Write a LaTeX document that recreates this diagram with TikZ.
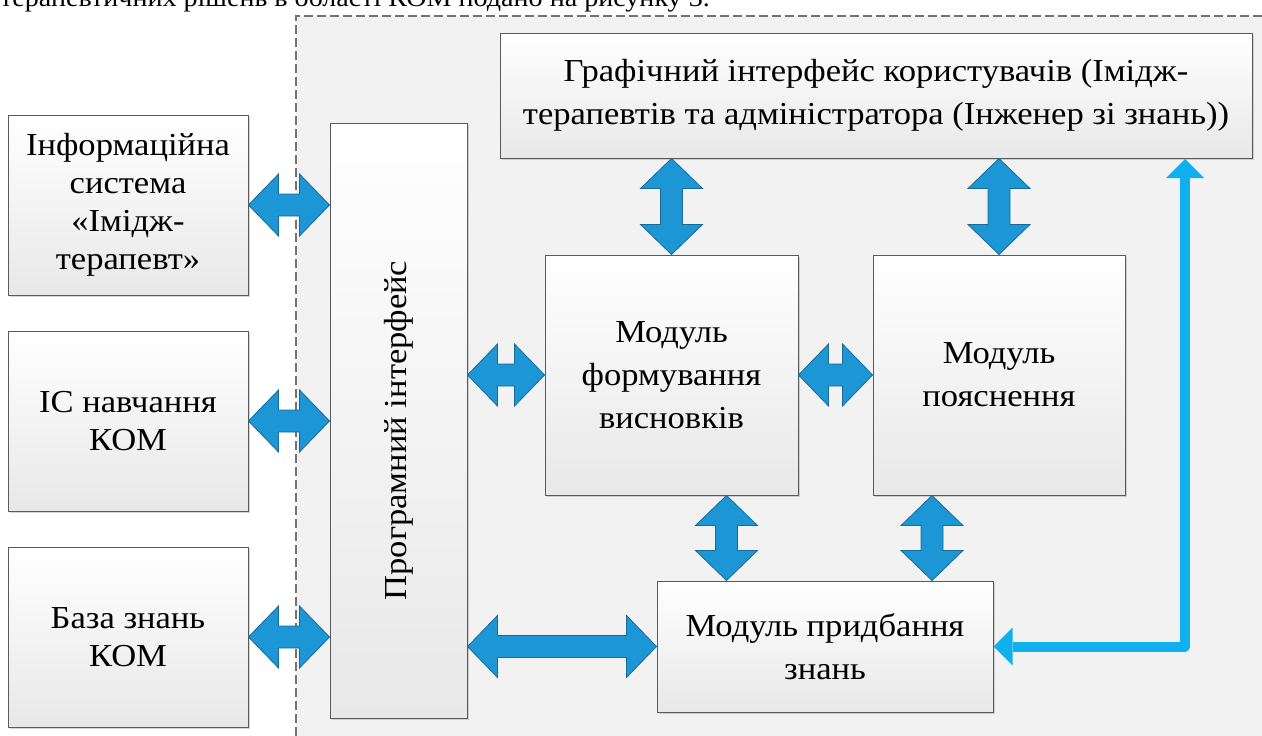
\documentclass[tikz,border=0pt]{standalone}
\usepackage{fontspec}
\setmainfont{Liberation Serif}[FakeStretch=1.08]
\usepackage{graphicx}
\usepackage{xcolor}
\usetikzlibrary{arrows.meta,calc,shadows}
\definecolor{frame}{HTML}{5A5A5A}
\definecolor{panel}{HTML}{F2F2F2}
\definecolor{boxlow}{HTML}{E8E8E8}
\definecolor{fatfill}{HTML}{1C96D4}
\definecolor{fatedge}{HTML}{1A6A98}
\definecolor{linkc}{HTML}{10AFEE}
\newcommand{\fs}{\fontsize{32}{38}\selectfont}
\newcommand{\fw}{\fontsize{32}{43}\selectfont}
\tikzset{
  blk/.style={draw=frame,line width=1pt,top color=white,bottom color=boxlow,
    align=center,inner sep=4pt,font=\fs,
    drop shadow={shadow xshift=2pt,shadow yshift=-2pt,fill=black!45,opacity=.35}},
  blkw/.style={blk,font=\fw},
  fat/.style={fill=fatfill,draw=fatedge,line width=0.8pt,line join=miter},
  link/.style={draw=linkc,line width=10pt,line join=round,
    {Triangle[length=19pt,width=38pt,line width=0pt]}-{Triangle[length=19pt,width=38pt,line width=0pt]}},
  region/.style={draw=frame!85,line width=1.2pt,dash pattern=on 9pt off 4pt},
}
% fat two-headed arrows between node anchors
\newcommand{\hfat}[2]{%
  \draw[fat] let \p1=#1, \p2=#2 in
    (\x1,\y1) -- (\x1+30pt,\y1+31pt) -- (\x1+30pt,\y1+11pt) -- (\x2-30pt,\y1+11pt)
    -- (\x2-30pt,\y1+31pt) -- (\x2,\y1) -- (\x2-30pt,\y1-31pt) -- (\x2-30pt,\y1-11pt)
    -- (\x1+30pt,\y1-11pt) -- (\x1+30pt,\y1-31pt) -- cycle;}
\newcommand{\vfat}[2]{%
  \draw[fat] let \p1=#1, \p2=#2 in
    (\x1,\y1) -- (\x1+31pt,\y1-30pt) -- (\x1+11pt,\y1-30pt) -- (\x1+11pt,\y2+30pt)
    -- (\x1+31pt,\y2+30pt) -- (\x1,\y2) -- (\x1-31pt,\y2+30pt) -- (\x1-11pt,\y2+30pt)
    -- (\x1-11pt,\y1-30pt) -- (\x1-31pt,\y1-30pt) -- cycle;}

\begin{document}
\begin{tikzpicture}[x=1pt,y=1pt]
  \useasboundingbox (0,0) rectangle (1262,-736);
  \fill[panel] (296,-16) rectangle (1262,-736);
  \draw[region] (296,-736) -- (296,-16) -- (1262,-16);
  \node[anchor=base west,font=\fontsize{26}{30}\selectfont,inner sep=0pt] (lead) at (0,-6)
    {терапевтичних рішень в області КОМ подано на рисунку 3.};

  % outer systems
  \node[blk,minimum width=240pt,minimum height=180pt] (info) at (128,-205)
    {Інформаційна\\ система\\ «Імідж-\\ терапевт»};
  \node[blk,minimum width=240pt,minimum height=180pt] (ics) at (128,-421)
    {ІС навчання\\ КОМ};
  \node[blk,minimum width=240pt,minimum height=180pt] (kb) at (128,-637)
    {База знань\\ КОМ};

  % expert system
  \node[blk,minimum width=137pt,minimum height=595pt] (prog) at (398.5,-420.5)
    {\rotatebox{90}{Програмний інтерфейс\hspace{20pt}}};
  \node[blkw,minimum width=752pt,minimum height=125pt] (gui) at (876,-95.5)
    {Графічний інтерфейс користувачів (Імідж-\\ терапевтів та адміністратора (Інженер зі знань))};
  \node[blkw,minimum width=253pt,minimum height=240pt] (infer) at (671.5,-375)
    {Модуль\\ формування\\ висновків};
  \node[blkw,minimum width=252pt,minimum height=240pt] (expl) at (999,-375)
    {Модуль\\ пояснення};
  \node[blkw,minimum width=336pt,minimum height=131pt] (acq) at (825,-646.5)
    {Модуль придбання\\ знань};

  \hfat{(info.east)}{(prog.west |- info.east)}
  \hfat{(ics.east)}{(prog.west |- ics.east)}
  \hfat{(kb.east)}{(prog.west |- kb.east)}
  \hfat{(prog.east |- infer.west)}{(infer.west)}
  \hfat{(infer.east)}{(expl.west)}
  \hfat{(prog.east |- acq.west)}{(acq.west)}
  \vfat{(infer.north |- gui.south)}{(infer.north)}
  \vfat{(expl.north |- gui.south)}{(expl.north)}
  \vfat{([xshift=55pt]infer.south)}{([xshift=55pt]infer.south |- acq.north)}
  \vfat{([xshift=-67pt]expl.south)}{([xshift=-67pt]expl.south |- acq.north)}

  \coordinate (guiport) at (1185,-159);
  \draw[link] (acq.east) -| (guiport);
\end{tikzpicture}
\end{document}
